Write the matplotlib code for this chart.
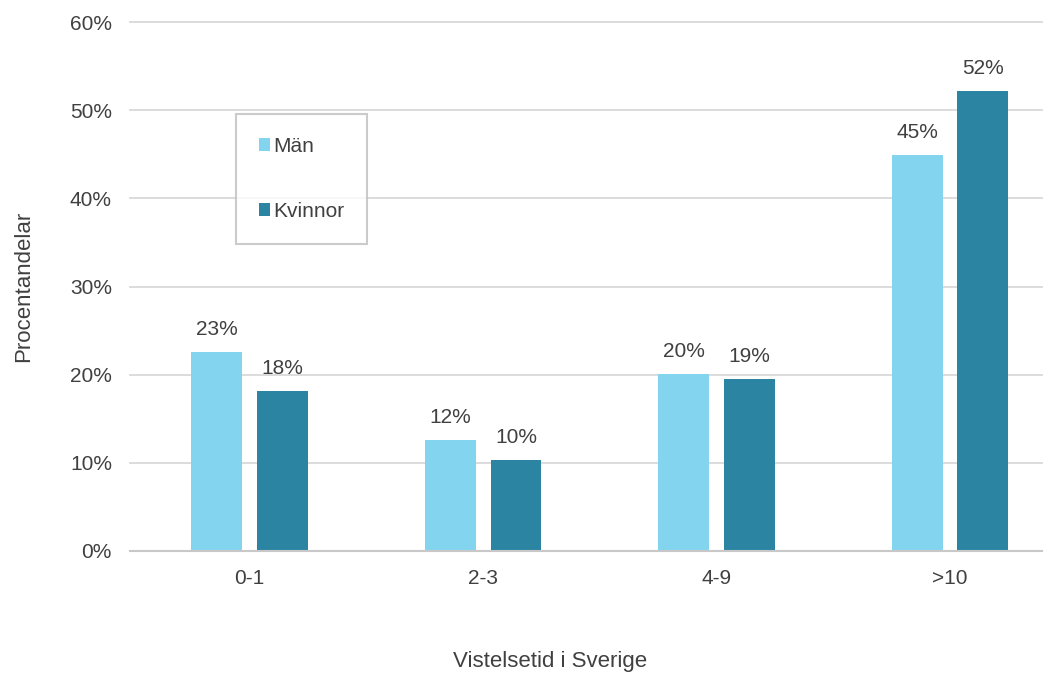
import matplotlib
matplotlib.use("Agg")
import matplotlib.pyplot as plt
import numpy as np
from matplotlib.patches import Patch

plt.rcParams["font.family"] = ["Liberation Sans", "DejaVu Sans"]

categories = ["0-1", "2-3", "4-9", ">10"]
man = [22.6, 12.6, 20.1, 44.9]
kvinnor = [18.1, 10.3, 19.5, 52.2]
man_labels = ["23%", "12%", "20%", "45%"]
kvinnor_labels = ["18%", "10%", "19%", "52%"]
yticks = [0, 10, 20, 30, 40, 50, 60]

c_man = "#83D4EE"
c_kv = "#2A84A2"
txt = "#404040"
fs = 15

fig = plt.figure(figsize=(10.58, 6.75), dpi=100)
ax = fig.add_axes([130/1058, 1-551/675, 912/1058, 529/675])

x = np.arange(len(categories))
w = 0.218
off = 0.141
b1 = ax.bar(x - off, man, w, color=c_man, zorder=3)
b2 = ax.bar(x + off, kvinnor, w, color=c_kv, zorder=3)

for rect, lab in zip(b1, man_labels):
    ax.text(rect.get_x() + rect.get_width()/2, rect.get_height() + 1.5, lab,
            ha="center", va="bottom", fontsize=fs, color=txt)
for rect, lab in zip(b2, kvinnor_labels):
    ax.text(rect.get_x() + rect.get_width()/2, rect.get_height() + 1.5, lab,
            ha="center", va="bottom", fontsize=fs, color=txt)

ax.set_xlim(-0.512, 3.394)
ax.set_ylim(0, 60)
ax.set_yticks(yticks)
ax.set_yticklabels([f"{t}%" for t in yticks])
ax.set_xticks(x)
ax.set_xticklabels(categories)
ax.tick_params(axis="both", length=0, labelsize=fs, colors=txt)
ax.tick_params(axis="y", pad=13)
ax.tick_params(axis="x", pad=13)
for t in yticks[1:]:
    ax.axhline(t, color="#D9D9D9", linewidth=1.3, zorder=0, clip_on=False)
for s in ["top", "right", "left"]:
    ax.spines[s].set_visible(False)
ax.spines["bottom"].set_color("#C8C8C8")
ax.spines["bottom"].set_linewidth(1.5)
ax.spines["bottom"].set_zorder(4)

ax.set_ylabel("Procentandelar", fontsize=16, color=txt)
ax.set_xlabel("Vistelsetid i Sverige", fontsize=16, color=txt)
ax.yaxis.set_label_coords(-(130-24)/912, 0.5)
ax.xaxis.set_label_coords((550-130)/912, -(662-551)/529)
ax.xaxis.label.set_va("center")
ax.yaxis.label.set_va("center")

handles = [Patch(facecolor=c_man, label="Män"), Patch(facecolor=c_kv, label="Kvinnor")]
leg = ax.legend(handles=handles, loc="upper left", bbox_to_anchor=(0.116, 0.826),
                frameon=True, fontsize=fs, handlelength=0.55, handleheight=0.55,
                handletextpad=0.15, labelspacing=2.2, borderpad=1.1,
                fancybox=False, borderaxespad=0)
leg.get_frame().set_edgecolor("#BFBFBF")
leg.get_frame().set_linewidth(1.5)
for t in leg.get_texts():
    t.set_color(txt)

fig.savefig("out.png", dpi=100)
